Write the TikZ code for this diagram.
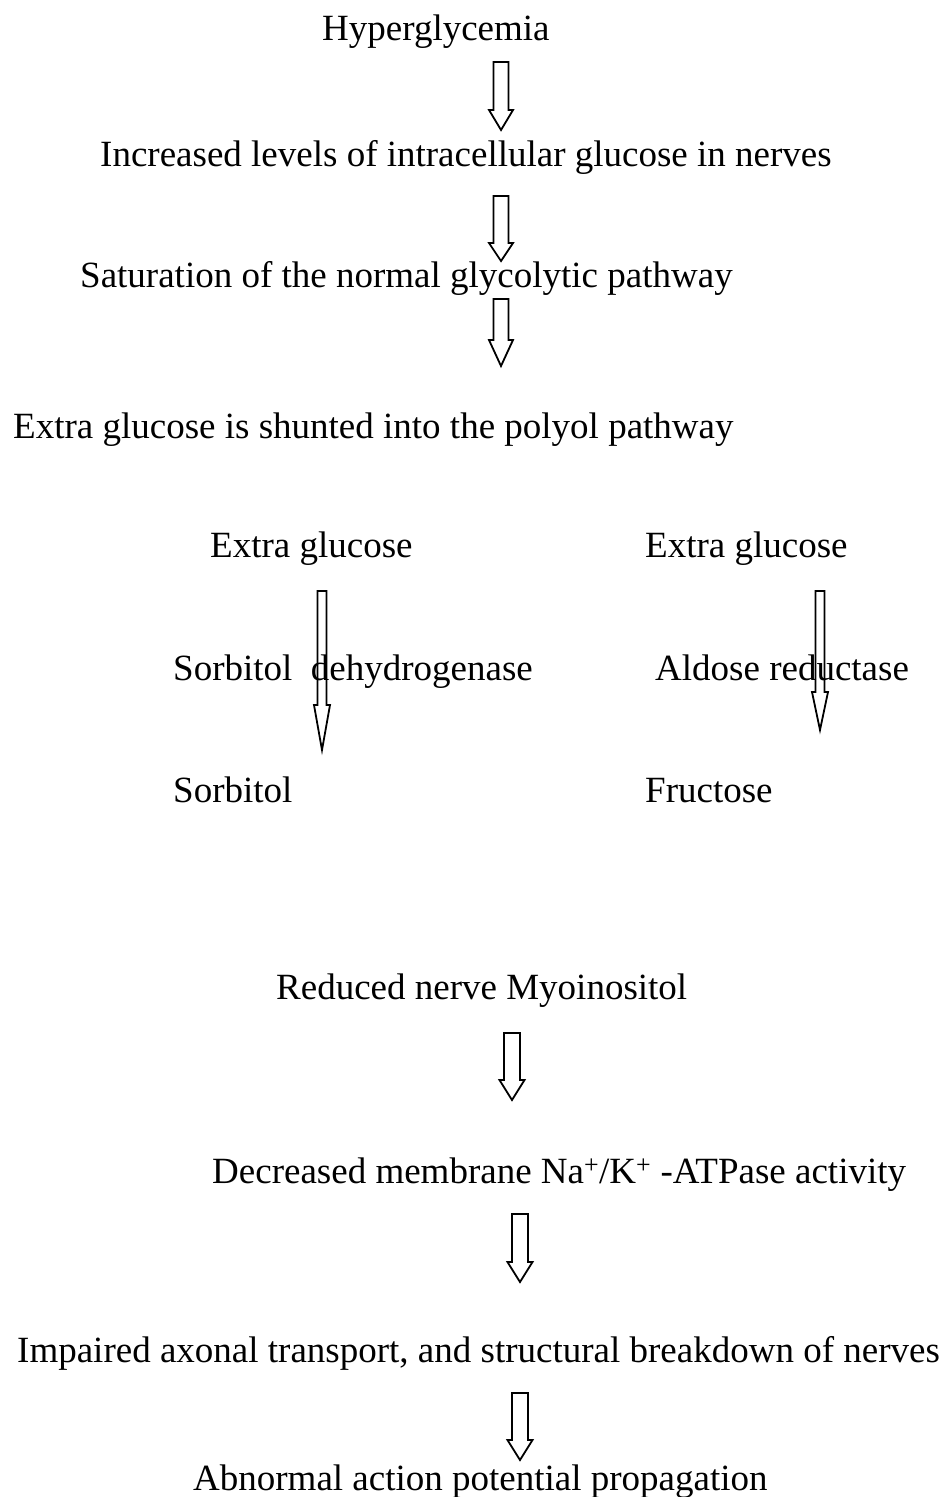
\documentclass[tikz,border=0pt]{standalone}
\usepackage{fontspec}
\setmainfont{Liberation Serif}
\tikzset{
  lbl/.style={inner sep=0pt, anchor=base west, font=\fontsize{37}{44}\selectfont, text=black},
  arr/.style={draw=black, line width=1.8pt, fill=none, line join=miter},
}
\newcommand\hollowarrow[6]{%
  \draw[arr] ({#1-#5},#2) -- ({#1+#5},#2) -- ({#1+#5},#3) -- ({#1+#6},#3)
    -- (#1,#4) -- ({#1-#6},#3) -- ({#1-#5},#3) -- cycle;}
\begin{document}
\begin{tikzpicture}[x=1pt,y=-1pt]
\useasboundingbox (0,0) rectangle (946,1497);
\node[lbl] (hyp) at (322,40) {Hyperglycemia};
\node[lbl] (inc) at (100,166) {Increased levels of intracellular glucose in nerves};
\node[lbl] (sat) at (80,287) {Saturation of the normal glycolytic pathway};
\node[lbl] (ext) at (13,438) {Extra glucose is shunted into the polyol pathway};
\node[lbl] (egl) at (210,557) {Extra glucose};
\node[lbl] (egr) at (645,557) {Extra glucose};
\node[lbl] (sdh) at (173,680) {Sorbitol\ \ dehydrogenase};
\node[lbl] (ar) at (655,680) {Aldose reductase};
\node[lbl] (sor) at (173,802) {Sorbitol};
\node[lbl] (fru) at (645,802) {Fructose};
\node[lbl] (red) at (276,999) {Reduced nerve Myoinositol};
\node[lbl] (dec) at (212,1183) {Decreased membrane Na\textsuperscript{+}/K\textsuperscript{+} -ATPase activity};
\node[lbl] (imp) at (17,1362) {Impaired axonal transport, and structural breakdown of nerves};
\node[lbl] (abn) at (193,1490) {Abnormal action potential propagation};
% block arrows
\hollowarrow{501}{62}{110}{130}{7.5}{12}
\hollowarrow{501}{196}{243}{261}{7.5}{12}
\hollowarrow{501}{299}{340}{366}{7.5}{12}
\hollowarrow{512}{1033}{1080}{1100}{8}{12.5}
\hollowarrow{520}{1214}{1262}{1282}{8}{12.5}
\hollowarrow{520}{1393}{1440}{1460}{8}{12.5}
% thin arrows
\hollowarrow{322}{591}{705}{750}{4.5}{8}
\hollowarrow{820}{591}{692}{730}{4.5}{8}
\end{tikzpicture}
\end{document}
